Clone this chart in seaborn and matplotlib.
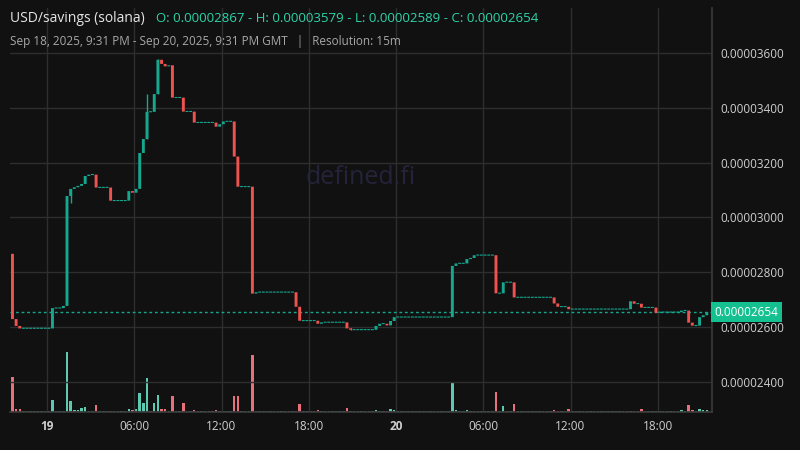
import numpy as np
import pandas as pd
import matplotlib
matplotlib.use("Agg")
import matplotlib.pyplot as plt
import seaborn as sns

# ---- data (prices in units of 1e-8 USD) ----
first_open = 2867
change_idx = [0, 1, 2, 11, 14, 15, 16, 17, 18, 19, 20, 21, 23, 27, 32, 33, 34, 35, 36, 37, 39, 40, 41, 42, 43, 44,
              47, 50, 56, 57, 58, 61, 62, 66, 67, 78, 79, 84, 85, 92, 93, 100, 101, 103, 104, 105, 121, 122, 125,
              126, 127, 133, 135, 138, 149, 150, 153, 170, 171, 173, 177, 178, 184, 186, 187, 189, 190, 191]
change_close = [2629, 2604, 2595, 2669, 2677, 3078, 3104, 3110, 3115, 3122, 3151, 3156, 3109, 3061, 3096, 3090, 3104,
                3235, 3286, 3385, 3450, 3575, 3560, 3551, 3555, 3437, 3386, 3346, 3331, 3340, 3350, 3222, 3112, 2722,
                2727, 2674, 2623, 2612, 2617, 2595, 2590, 2604, 2612, 2606, 2622, 2636, 2823, 2832, 2848, 2852, 2862,
                2723, 2763, 2708, 2686, 2674, 2665, 2694, 2685, 2671, 2652, 2654, 2660, 2616, 2605, 2636, 2643, 2654]
wick_idx = [16, 37, 40, 93]
wick_high = [3104, 3450, 3579, 2595]
wick_low = [3053, 3286, 3450, 2589]
vol_idx = [0, 1, 2, 11, 15, 16, 17, 18, 19, 20, 23, 32, 33, 34, 35, 36, 37, 39, 40, 41, 42, 44, 47, 50, 56, 61, 62, 66,
           79, 84, 92, 100, 104, 105, 121, 122, 125, 133, 135, 138, 149, 153, 173, 184, 186, 187, 189, 190, 191]
vol_val = [35, 3, 3, 12, 60, 11, 2, 2, 4, 5, 7, 3, 2, 3, 19, 9, 34, 9, 17, 3, 3, 16, 9, 2, 2, 16, 16, 57,
           8, 2, 4, 2, 3, 2, 29, 2, 2, 20, 6, 8, 2, 3, 3, 2, 7, 2, 3, 2, 2]
n = 192

closes = []
cur = first_open
cmap = dict(zip(change_idx, change_close))
for i in range(n):
    cur = cmap.get(i, cur)
    closes.append(cur)
opens = [first_open] + closes[:-1]
vols = [0.8] * n
for i, v in zip(vol_idx, vol_val):
    vols[i] = v

df = pd.DataFrame({"t": -2.5 + 0.25 * np.arange(n) + 0.125, "open": opens, "close": closes, "vol": vols})
df["up"] = df["close"] >= df["open"]
hi = dict(zip(wick_idx, wick_high)); lo = dict(zip(wick_idx, wick_low))

UP, DN = "#16a78f", "#ef5350"
BG = "#111111"
sns.set_theme(style="dark", rc={"axes.facecolor": BG, "figure.facecolor": BG, "patch.edgecolor": "none"})
fig = plt.figure(figsize=(8, 4.5), dpi=100)
ax = fig.add_axes([10/800, 38/450, 702/800, 404/450])
ax.set_facecolor(BG)
axv = ax.twinx()
ax.set_zorder(axv.get_zorder() + 1); ax.patch.set_visible(False)
axv.set_facecolor(BG)

# volume
axv.bar(df["t"], df["vol"], width=0.17, color=[("#5dc9b0" if u else "#e8707a") for u in df["up"]],
        linewidth=0, zorder=2)
axv.set_ylim(0, 404)
axv.set_yticks([])

sc = 1e-8
for i, r in df.iterrows():
    c = UP if r.up else DN
    lo_b, hi_b = min(r.open, r.close), max(r.open, r.close)
    h = max(hi_b - lo_b, 4)
    ax.bar(r.t, h * sc, bottom=(lo_b - (1.5 if hi_b == lo_b else 0)) * sc, width=0.2, color=c, zorder=3,
           linewidth=0, snap=False)
    if i in hi:
        ax.vlines(r.t, lo[i] * sc, hi[i] * sc, color=c, lw=1, zorder=3)

last = closes[-1]
ax.axhline(last * sc, color=UP, ls=(0, (2, 2)), lw=1, zorder=2)
ax.set_xlim(-2.545, 45.73)
ax.set_ylim(2290 * sc, 3764 * sc)
yt = [2400, 2600, 2800, 3000, 3200, 3400, 3600]
ax.set_yticks([v * sc for v in yt])
ax.yaxis.tick_right()
ax.set_yticklabels([f"{v*sc:.8f}" for v in yt], color="#cfcfcf", fontsize=8.5, family="Open Sans")
xt = [0, 6, 12, 18, 24, 30, 36, 42]
xl = ["19", "06:00", "12:00", "18:00", "20", "06:00", "12:00", "18:00"]
ax.set_xticks(xt)
ax.set_xticklabels(xl, color="#cfcfcf", fontsize=8.5, family="Open Sans")
for lab in ax.get_xticklabels():
    if lab.get_text() in ("19", "20"):
        lab.set_fontweight("bold")
ax.tick_params(length=0, pad=6)
ax.grid(True, color="#2e2e2e", lw=1)
for s in ["top", "left"]:
    ax.spines[s].set_visible(False)
for s in ["right", "bottom"]:
    ax.spines[s].set_color("#3a3a3a")
for s in axv.spines.values():
    s.set_visible(False)

ax.text(0.5, 0.58, "defined.fi", transform=ax.transAxes, ha="center", va="center",
        fontsize=18, color="#25233a", family="Open Sans", zorder=1)
ax.text(1.003, (last - 2290) / (3764 - 2290), f"{last*sc:.8f}", transform=ax.transAxes, ha="left", va="center",
        fontsize=8.5, color="white", family="Open Sans",
        bbox=dict(boxstyle="square,pad=0.3", fc="#14c08f", ec="none"), zorder=5)

fig.text(10/800, 1 - 19/450, "USD/savings (solana)", color="#e6e6e6", fontsize=10, va="center", family="Open Sans")
fig.text(156/800, 1 - 19/450, "O: 0.00002867 - H: 0.00003579 - L: 0.00002589 - C: 0.00002654",
         color="#2dd4a9", fontsize=9.5, va="center", family="Open Sans")
fig.text(10/800, 1 - 41/450, "Sep 18, 2025, 9:31 PM - Sep 20, 2025, 9:31 PM GMT   |   Resolution: 15m",
         color="#a8a8a8", fontsize=8.5, va="center", family="Open Sans")

fig.savefig("out.png", dpi=100, facecolor=BG)
